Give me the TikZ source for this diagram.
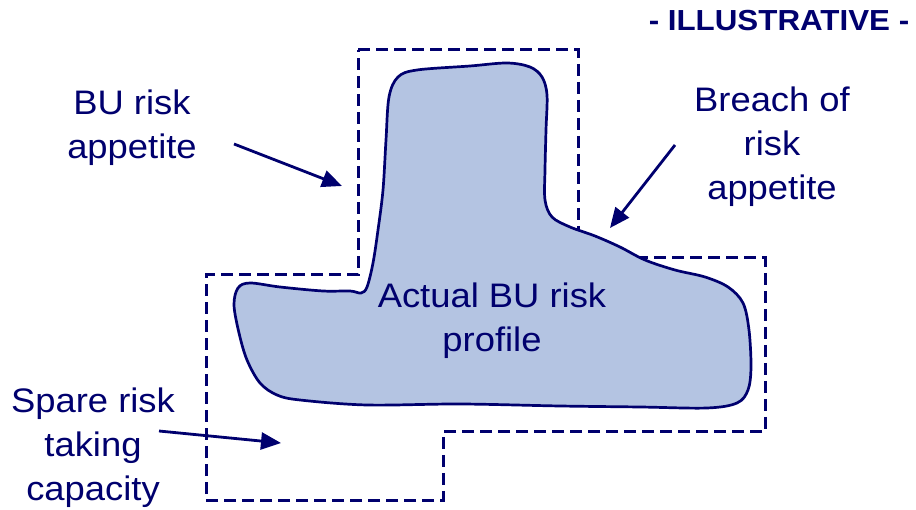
\documentclass[tikz,border=0pt]{standalone}
\usepackage{fontspec}
\setmainfont{Liberation Sans}
\usetikzlibrary{arrows.meta,positioning}

\definecolor{navy}{RGB}{0,0,110}
\definecolor{blobfill}{RGB}{180,196,226}

\tikzset{
  lbl/.style={text=navy,align=center,font=\fontsize{34}{44}\selectfont,xscale=1.07},
  limit/.style={draw=navy,line width=3pt,dash pattern=on 12pt off 6pt},
  pointer/.style={draw=navy,line width=2.8pt,-{Triangle[length=20pt,width=17pt]}}
}

\begin{document}
\begin{tikzpicture}[x=1pt,y=-1pt]
\useasboundingbox (0,0) rectangle (916,510);

% risk appetite boundary
\draw[limit] (358,50) -- (578,50) -- (578,258) -- (765,258) -- (765,432)
  -- (443,432) -- (443,500) -- (206,500) -- (206,275) -- (358,275) -- cycle;

% actual risk profile
\draw[navy,line width=2.7pt,fill=blobfill] plot[smooth cycle,tension=0.55] coordinates {
  (389,97) (398,77) (417,70) (470,66) (507,63) (530,67) (542,77) (547,95)
  (546,130) (545,170) (545,200) (552,217) (570,227) (595,236) (620,247)
  (645,260) (675,270) (705,277) (728,287) (743,303) (749,330) (751,367)
  (748,390) (737,403) (707,408) (640,407) (560,406) (460,404) (367,405)
  (300,400) (277,395) (260,383) (247,360) (239,333) (234,305) (238,288)
  (250,283) (280,287) (323,291) (350,291) (361,293) (367,287) (373,263)
  (378,230) (383,190) (386,140)};

\node[lbl] (profile) at (492,321) {Actual BU risk\\profile};
\node[lbl] (appetite) at (132,128) {BU risk\\appetite};
\node[lbl] (breach) at (772,147) {Breach of\\risk\\appetite};
\node[lbl] (spare) at (93,448) {Spare risk\\taking\\capacity};
\node[text=navy,font=\fontsize{29}{34}\selectfont\bfseries,xscale=1.08,anchor=east]
  (tag) at (913,21) {- ILLUSTRATIVE -};

% pointers
\coordinate (p1) at (234,144);
\coordinate (q1) at (342,186);
\coordinate (p2) at (675,145);
\coordinate (q2) at (610,228);
\coordinate (p3) at (159,431);
\coordinate (q3) at (281,443);
\draw[pointer] (p1) -- (q1);
\draw[pointer] (p2) -- (q2);
\draw[pointer] (p3) -- (q3);
\end{tikzpicture}
\end{document}
